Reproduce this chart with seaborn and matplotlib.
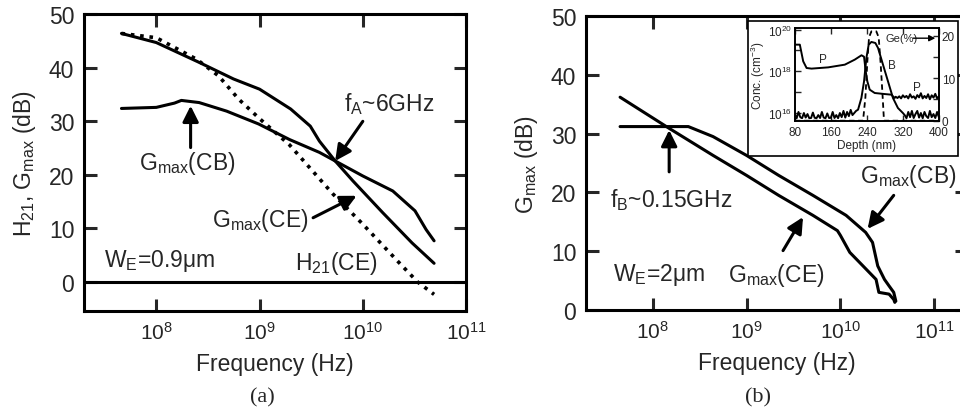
import numpy as np
import matplotlib
matplotlib.use('Agg')
import matplotlib.pyplot as plt
import seaborn as sns
from matplotlib.patches import Rectangle
from matplotlib.ticker import FixedLocator, NullLocator, NullFormatter

# (a) W_E = 0.9 um
a_ce_freq = [4.6e7, 1e8, 2.6e8, 5.6e8, 1e9, 2e9, 3.1e9, 3.8e9, 5.4e9, 8e9, 1.55e10, 3e10, 4.9e10]
a_ce_gain = [46.4, 44.7, 41.0, 37.9, 36.0, 32.3, 29.1, 26.3, 22.6, 18.9, 13.0, 7.3, 3.5]
a_cb_freq = [4.6e7, 1e8, 1.5e8, 1.75e8, 2.6e8, 4.8e8, 9.8e8, 1.95e9, 3.8e9, 5.4e9, 1e10, 1.95e10, 3.2e10, 4.1e10, 4.9e10]
a_cb_gain = [32.4, 32.6, 33.4, 33.9, 33.5, 31.9, 29.5, 26.6, 24.2, 22.6, 19.8, 17.0, 13.3, 9.8, 7.7]
a_h21_freq = [4.6e7, 1e8, 2.45e8, 4e8, 6.3e8, 1e9, 1.95e9, 5.1e9, 1e10, 2.25e10, 3.4e10, 4.9e10]
a_h21_gain = [46.4, 45.6, 41.6, 38.5, 34.1, 30.5, 25.6, 16.5, 10.8, 3.6, 0.0, -2.3]

# (b) W_E = 2 um
b_ce_freq = [4.5e7, 1.5e8, 4.4e8, 1e9, 2.2e9, 5.1e9, 9.3e9, 1e10, 1.26e10, 1.74e10, 2.4e10, 2.57e10, 3.3e10, 3.7e10, 3.8e10]
b_ce_gain = [36.2, 30.9, 26.3, 22.9, 19.5, 16.1, 13.5, 12.7, 9.8, 7.5, 5.2, 3.0, 2.7, 1.8, 1.3]
b_cb_freq = [4.5e7, 2.4e8, 4.4e8, 1e9, 2.2e9, 5.1e9, 1.15e10, 1.86e10, 2.2e10, 2.5e10, 2.95e10, 3.3e10, 3.7e10, 3.9e10]
b_cb_gain = [31.2, 31.2, 29.5, 26.3, 22.9, 19.5, 16.1, 13.2, 11.5, 7.5, 5.2, 4.1, 3.0, 1.5]

# inset: SIMS profile (log10 of concentration) and Ge fraction
p_depth = [80, 91, 98.5, 106, 117, 154, 191, 213, 228, 233.7, 237.4, 241, 246.3, 257.4, 279.5, 294.3, 301.7,
           304, 308, 312, 316, 320, 324, 328, 332, 336, 340, 344, 348, 352, 356, 360, 364, 368, 372, 376, 380,
           384, 388, 392, 396, 400]
p_logc = [19.28, 19.28, 18.48, 18.16, 18.13, 18.19, 18.32, 18.56, 18.77, 18.7, 18.0, 17.52, 17.12, 16.96, 16.91, 16.88, 16.72,
          16.78, 16.72, 16.8, 16.7, 16.85, 16.75, 16.82, 16.7, 16.9, 16.74, 16.8, 16.68, 16.86, 16.75, 16.95, 16.7,
          16.82, 16.72, 16.9, 16.66, 16.85, 16.74, 16.92, 16.7, 16.8]
b_depth = [80, 84, 88, 92, 96, 100, 104, 108, 112, 116, 120, 124, 128, 132, 136, 140, 144, 148, 152, 156, 160,
           164, 168, 172, 176, 180, 184, 188, 192, 196, 200, 204, 208, 212, 216,
           220.4, 227.8, 233.7, 238.9, 244, 250, 258.8, 264.8, 275.8, 286.9, 298, 309, 320,
           324, 328, 332, 336, 340, 344, 348, 352, 356, 360, 364, 368, 372, 376, 380, 384, 388, 392, 396, 400]
b_logc = [15.95, 15.75, 16.05, 15.8, 15.75, 16.0, 15.78, 15.95, 15.75, 15.76, 16.02, 15.77, 15.75, 15.9, 15.76,
          16.05, 15.78, 15.75, 15.98, 15.76, 15.77, 16.05, 15.76, 15.9, 15.75, 16.0, 15.8, 16.1, 15.78, 16.05,
          15.85, 16.15, 15.9, 16.0, 16.1,
          16.16, 16.72, 17.52, 18.64, 19.28, 19.41, 19.36, 19.12, 18.32, 17.52, 16.72, 16.24, 16.0,
          15.9, 15.75, 16.05, 15.8, 16.1, 15.76, 15.95, 16.1, 15.78, 16.0, 15.75, 16.05, 15.85, 15.76, 16.1,
          15.8, 15.95, 15.76, 16.05, 15.8]
ge_depth = [80, 231.5, 236.7, 241.1, 244.8, 250, 261, 266.2, 270.7, 275.1, 278, 400]
ge_pct = [0, 0, 5.5, 14.1, 19.6, 21.0, 21.0, 19.6, 13.3, 5.5, 0, 0]

sns.set_style('ticks')
plt.rcParams['font.family'] = ['Liberation Sans', 'DejaVu Sans']
plt.rcParams['mathtext.default'] = 'regular'

FS = 16.5
LW = 2.2

fig = plt.figure(figsize=(9.6, 4.14), dpi=100)
ax_a = fig.add_axes([0.0875, 0.2464, 0.398, 0.717])
ax_b = fig.add_axes([0.6104, 0.2488, 0.397, 0.710])


def style_main(ax, xlim, ylim, ylabel):
    ax.set_xscale('log')
    ax.set_xlim(*xlim)
    ax.set_ylim(*ylim)
    ax.xaxis.set_major_locator(FixedLocator([1e8, 1e9, 1e10, 1e11]))
    ax.xaxis.set_minor_locator(NullLocator())
    ax.set_yticks([0, 10, 20, 30, 40, 50])
    ax.tick_params(direction='in', length=9, width=LW, labelsize=FS, top=True, right=True, pad=7)
    ax.tick_params(axis='x', labelsize=15)
    ax.set_xlabel('Frequency (Hz)', fontsize=FS, labelpad=7)
    ax.set_ylabel(ylabel, fontsize=FS, labelpad=8)
    for s in ax.spines.values():
        s.set_linewidth(LW)
        s.set_color('k')


def arrow(ax, tail, head):
    ax.annotate('', xy=head, xytext=tail,
                arrowprops=dict(arrowstyle='-|>', lw=LW, color='k', mutation_scale=24,
                                shrinkA=0, shrinkB=0))


# ---- panel (a)
sns.lineplot(x=a_ce_freq, y=a_ce_gain, ax=ax_a, color='k', lw=LW, sort=False, estimator=None)
sns.lineplot(x=a_cb_freq, y=a_cb_gain, ax=ax_a, color='k', lw=LW, sort=False, estimator=None)
sns.lineplot(x=a_h21_freq, y=a_h21_gain, ax=ax_a, color='k', lw=2.6, ls=(0, (1, 1.6)), sort=False, estimator=None)
ax_a.axhline(0, color='k', lw=LW)
style_main(ax_a, (10 ** 7.3, 1e11), (-5.4, 50), 'H$_{21}$, G$_{max}$ (dB)')

ax_a.text(6.6e9, 33.5, 'f$_A$~6GHz', fontsize=FS, va='center')
arrow(ax_a, (1e10, 30), (5.4e9, 22.6))
ax_a.text(6.8e7, 22.3, 'G$_{max}$(CB)', fontsize=FS, va='center')
arrow(ax_a, (2.15e8, 25.1), (2.15e8, 32.9))
ax_a.text(3.5e8, 11.7, 'G$_{max}$(CE)', fontsize=FS, va='center')
arrow(ax_a, (3.3e9, 12.0), (8.7e9, 16.1))
ax_a.text(3.1e7, 4.2, 'W$_E$=0.9\u03bcm', fontsize=FS, va='center')
ax_a.text(2.2e9, 3.6, 'H$_{21}$(CE)', fontsize=FS, va='center')

# ---- panel (b)
sns.lineplot(x=b_ce_freq, y=b_ce_gain, ax=ax_b, color='k', lw=LW, sort=False, estimator=None)
sns.lineplot(x=b_cb_freq, y=b_cb_gain, ax=ax_b, color='k', lw=LW, sort=False, estimator=None)
style_main(ax_b, (10 ** 7.29, 10 ** 11.35), (0, 50), 'G$_{max}$ (dB)')

arrow(ax_b, (1.5e8, 23.5), (1.5e8, 30.6))
ax_b.text(3.5e7, 18.9, 'f$_B$~0.15GHz', fontsize=FS, va='center')
ax_b.text(3.8e7, 6.1, 'W$_E$=2\u03bcm', fontsize=FS, va='center')
ax_b.text(6.3e8, 6.1, 'G$_{max}$(CE)', fontsize=FS, va='center')
arrow(ax_b, (2.45e9, 10.1), (4e9, 15.8))
ax_b.text(1.6e10, 22.9, 'G$_{max}$(CB)', fontsize=FS, va='center')
arrow(ax_b, (3.7e10, 19.5), (1.95e10, 13.8))

# ---- inset
frame = Rectangle((0.779, 0.621), 0.219, 0.326, transform=fig.transFigure,
                  facecolor='white', edgecolor='k', lw=1.2, zorder=1)
fig.add_artist(frame)
ax_in = fig.add_axes([0.828, 0.706, 0.150, 0.224])
ax_in.set_zorder(2)
sns.lineplot(x=p_depth, y=10.0 ** np.array(p_logc), ax=ax_in, color='k', lw=1.4, sort=False, estimator=None)
sns.lineplot(x=b_depth, y=10.0 ** np.array(b_logc), ax=ax_in, color='k', lw=1.4, sort=False, estimator=None)
ax_in.set_yscale('log')
ax_in.set_xlim(80, 400)
ax_in.set_ylim(10 ** 15.63, 10 ** 20.08)
ax_in.set_xticks([80, 160, 240, 320, 400])
ax_in.yaxis.set_major_locator(FixedLocator([1e16, 1e18, 1e20]))
ax_in.yaxis.set_minor_locator(FixedLocator([1e17, 1e19]))
ax_in.yaxis.set_minor_formatter(NullFormatter())
ax_in.tick_params(which='both', direction='in', length=4, width=1, labelsize=8.5, pad=2, top=True)
ax_in.tick_params(axis='x', pad=4)
ax_in.set_xlabel('Depth (nm)', fontsize=8.5, labelpad=0.5)
ax_in.set_ylabel('Conc. (cm$^{-3}$)', fontsize=8.5, labelpad=1)

ax_ge = ax_in.twinx()
ax_ge.set_zorder(3)
ax_ge.patch.set_visible(False)
sns.lineplot(x=ge_depth, y=ge_pct, ax=ax_ge, color='k', lw=1.3, ls=(0, (3, 2)), sort=False, estimator=None)
ax_ge.set_ylim(0, 21.8)
ax_ge.set_yticks([0, 10, 20])
ax_ge.yaxis.set_minor_locator(FixedLocator([5, 15]))
ax_ge.tick_params(which='both', direction='in', length=4, width=1, labelsize=8.5, pad=2)
ax_ge.set_ylabel('')
for a in (ax_in, ax_ge):
    for s in a.spines.values():
        s.set_linewidth(1.2)
        s.set_color('k')

ax_in.text(143, 10 ** 18.6, 'P', fontsize=8.5, ha='center', va='center')
ax_in.text(296, 10 ** 18.3, 'B', fontsize=8.5, ha='center', va='center')
ax_in.text(352, 10 ** 17.25, 'P', fontsize=8.5, ha='center', va='center')
ax_ge.text(281, 19.4, 'Ge(%)', fontsize=8, va='center')
ax_ge.annotate('', xy=(392, 19.4), xytext=(343, 19.4),
               arrowprops=dict(arrowstyle='-|>', lw=1, color='k', mutation_scale=9, shrinkA=0, shrinkB=0))

fig.text(0.273, 0.04, '(a)', fontsize=16, family='Liberation Serif', ha='center', va='center')
fig.text(0.79, 0.04, '(b)', fontsize=16, family='Liberation Serif', ha='center', va='center')

fig.savefig('out.png', dpi=100)
